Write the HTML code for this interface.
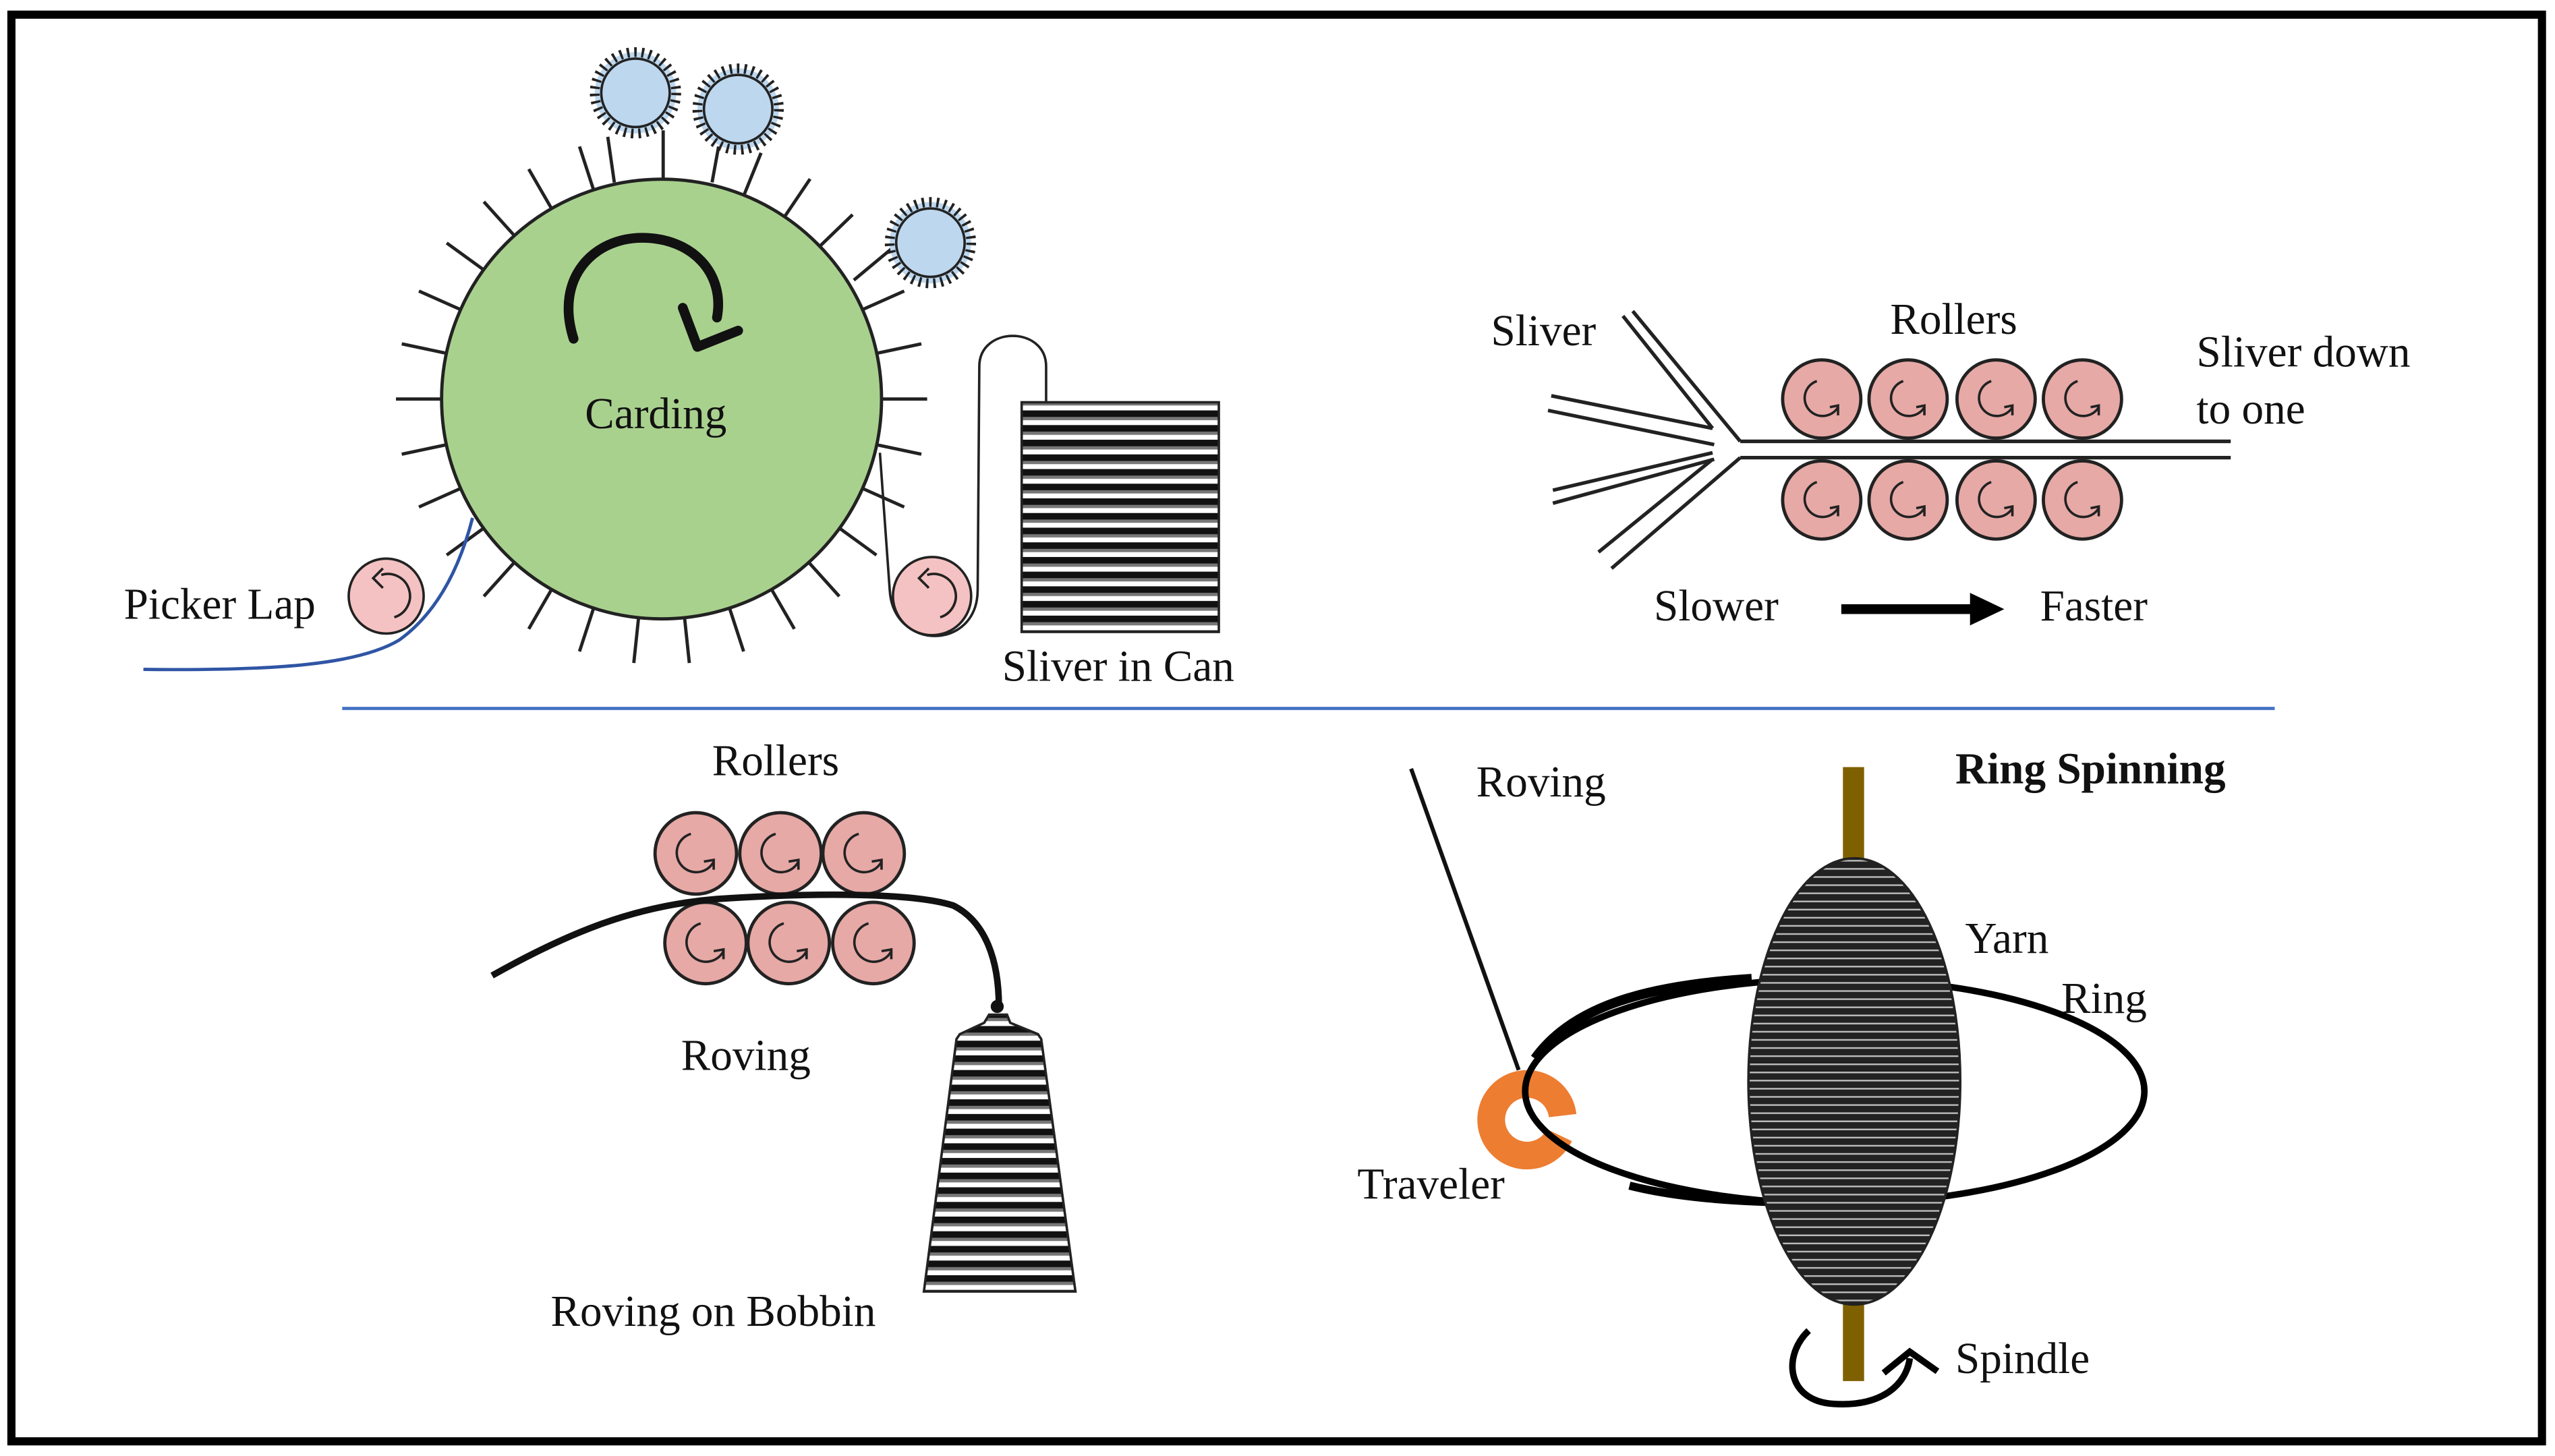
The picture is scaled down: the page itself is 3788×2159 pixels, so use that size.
<!DOCTYPE html>
<html><head><meta charset="utf-8"><style>
html,body{margin:0;padding:0;background:#fff}
svg{display:block}
text{font-family:"Liberation Serif",serif;font-size:27px;fill:#111}
</style></head><body>
<svg width="3788" height="2159" viewBox="0 0 1568 894" preserveAspectRatio="none" xmlns="http://www.w3.org/2000/svg">
<defs>
<pattern id="st" width="10" height="9" patternUnits="userSpaceOnUse">
<rect width="10" height="9" fill="#fff"/>
<rect y="0" width="10" height="5" fill="#111"/>
<rect y="4" width="10" height="2" fill="#777"/>
</pattern>
<pattern id="st2" width="10" height="5" patternUnits="userSpaceOnUse">
<rect width="10" height="5" fill="#222"/>
<rect y="3" width="10" height="1" fill="#bbb"/>
</pattern>
<g id="rr"><circle r="24" fill="#e6a9a6" stroke="#222" stroke-width="2"/><path d="M-3,-11 A11,11 0 1 0 10,5" fill="none" stroke="#222" stroke-width="1.5"/><path d="M5,5 L10,4 L10,10" fill="none" stroke="#222" stroke-width="1.5"/></g>
<g id="rb"><circle r="25" fill="#e6a9a6" stroke="#222" stroke-width="2"/><path d="M-3,-12 A12,12 0 1 0 11,5" fill="none" stroke="#222" stroke-width="1.5"/><path d="M5,5 L11,4 L11,10" fill="none" stroke="#222" stroke-width="1.5"/></g>
</defs>
<rect x="7" y="9" width="1553" height="876" fill="none" stroke="#000" stroke-width="5"/>

<!-- carding spikes -->
<g stroke="#222" stroke-width="2">
<g id="sp"><line x1="540" y1="245" x2="569" y2="245"/></g>
<use href="#sp" transform="rotate(12 406 245)"/><use href="#sp" transform="rotate(24 406 245)"/><use href="#sp" transform="rotate(36 406 245)"/>
<use href="#sp" transform="rotate(48 406 245)"/><use href="#sp" transform="rotate(60 406 245)"/><use href="#sp" transform="rotate(72 406 245)"/>
<use href="#sp" transform="rotate(84 406 245)"/><use href="#sp" transform="rotate(96 406 245)"/><use href="#sp" transform="rotate(108 406 245)"/>
<use href="#sp" transform="rotate(120 406 245)"/><use href="#sp" transform="rotate(132 406 245)"/><use href="#sp" transform="rotate(144 406 245)"/>
<use href="#sp" transform="rotate(156 406 245)"/><use href="#sp" transform="rotate(168 406 245)"/><use href="#sp" transform="rotate(180 406 245)"/>
<use href="#sp" transform="rotate(192 406 245)"/><use href="#sp" transform="rotate(204 406 245)"/><use href="#sp" transform="rotate(216 406 245)"/>
<use href="#sp" transform="rotate(228 406 245)"/><use href="#sp" transform="rotate(240 406 245)"/><use href="#sp" transform="rotate(252 406 245)"/>
<use href="#sp" transform="rotate(292 406 245)"/><use href="#sp" transform="rotate(304 406 245)"/>
<use href="#sp" transform="rotate(316 406 245)"/><use href="#sp" transform="rotate(336 406 245)"/><use href="#sp" transform="rotate(348 406 245)"/>
<line x1="373" y1="84" x2="377" y2="112"/>
<line x1="407" y1="80" x2="407" y2="110"/>
<line x1="441" y1="90" x2="437" y2="112"/>
<line x1="524" y1="172" x2="548" y2="152"/>
</g>
<circle cx="406" cy="245" r="135" fill="#a9d18e" stroke="#222" stroke-width="2"/>
<!-- blue rollers -->
<g fill="#bdd7ee" stroke="#222" stroke-width="6" stroke-dasharray="1.5 3">
<circle cx="390" cy="57" r="25"/><circle cx="453" cy="67" r="25"/><circle cx="571" cy="149" r="25"/>
</g>
<g fill="#bdd7ee" stroke="#222" stroke-width="1.5">
<circle cx="390" cy="57" r="21"/><circle cx="453" cy="67" r="21"/><circle cx="571" cy="149" r="21"/>
</g>
<!-- rotation arrow -->
<path d="M352,208 C340,170 365,146 394,146 C425,146 445,168 440,195" fill="none" stroke="#111" stroke-width="6" stroke-linecap="round"/>
<path d="M419,189 L428,213 L453,203" fill="none" stroke="#111" stroke-width="6" stroke-linecap="round" stroke-linejoin="round"/>
<text x="359" y="263">Carding</text>
<!-- picker lap -->
<path d="M88,411 C170,412 220,408 245,393 C270,375 283,345 290,318" fill="none" stroke="#2f55a4" stroke-width="2"/>
<circle cx="237" cy="366" r="23" fill="#f4c2c2" stroke="#222" stroke-width="1.5"/>
<path d="M234,353 A12,12 0 1 1 242,379" fill="none" stroke="#222" stroke-width="1.5"/><path d="M235,349 L229,355 L235,361" fill="none" stroke="#222" stroke-width="1.5"/>
<text x="76" y="380">Picker Lap</text>
<!-- sliver into can -->
<path d="M540,278 L546,362 C548,400 600,400 600,362 L601,225 C601,200 642,200 642,225 L642,247" fill="none" stroke="#222" stroke-width="1.5"/>
<circle cx="572" cy="366" r="24" fill="#f4c2c2" stroke="#222" stroke-width="1.5"/>
<path d="M569,353 A12,12 0 1 1 577,379" fill="none" stroke="#222" stroke-width="1.5"/><path d="M570,349 L564,355 L570,361" fill="none" stroke="#222" stroke-width="1.5"/>
<rect x="627" y="247" width="121" height="141" fill="url(#st)" stroke="#222" stroke-width="1.5"/>
<text x="615" y="418">Sliver in Can</text>

<!-- drawing frame -->
<g stroke="#222" stroke-width="2.2" fill="none">
<line x1="1068" y1="271" x2="1369" y2="271"/>
<line x1="1068" y1="281" x2="1369" y2="281"/>
<line x1="996" y1="194" x2="1051" y2="263"/><line x1="1002" y1="191" x2="1068" y2="271"/>
<line x1="952" y1="243" x2="1051" y2="263"/><line x1="950" y1="252" x2="1052" y2="273"/>
<line x1="953" y1="301" x2="1051" y2="278"/><line x1="953" y1="309" x2="1052" y2="282"/>
<line x1="981" y1="339" x2="1051" y2="282"/><line x1="989" y1="349" x2="1068" y2="281"/>
</g>
<use href="#rr" x="1118" y="245"/><use href="#rr" x="1171" y="245"/><use href="#rr" x="1225" y="245"/><use href="#rr" x="1278" y="245"/>
<use href="#rr" x="1118" y="307"/><use href="#rr" x="1171" y="307"/><use href="#rr" x="1225" y="307"/><use href="#rr" x="1278" y="307"/>
<text x="915" y="212">Sliver</text>
<text x="1160" y="205">Rollers</text>
<text x="1348" y="225">Sliver down</text>
<text x="1348" y="260">to one</text>
<text x="1015" y="381">Slower</text>
<text x="1252" y="381">Faster</text>
<line x1="1130" y1="374" x2="1212" y2="374" stroke="#000" stroke-width="6"/>
<path d="M1209,364 L1230,374 L1209,384 Z" fill="#000"/>

<line x1="210" y1="435" x2="1396" y2="435" stroke="#4472c4" stroke-width="2"/>

<!-- roving frame -->
<use href="#rb" x="427" y="524"/><use href="#rb" x="479" y="524"/><use href="#rb" x="530" y="524"/>
<use href="#rb" x="433" y="579"/><use href="#rb" x="484" y="579"/><use href="#rb" x="536" y="579"/>
<path d="M302,599 C350,572 390,556 440,552 C500,548 560,548 585,556 C605,566 613,590 613,618" fill="none" stroke="#111" stroke-width="4"/>
<circle cx="612" cy="618" r="4" fill="#111"/>
<path d="M607,623 L618,623 L620,628 L637,635 L639,638 L660,793 L567,793 L587,638 L589,635 L604,628 Z" fill="url(#st)" stroke="#222" stroke-width="1.5"/>
<text x="437" y="476">Rollers</text>
<text x="418" y="657">Roving</text>
<text x="338" y="814">Roving on Bobbin</text>

<!-- ring spinning -->
<rect x="1131" y="471" width="13" height="377" fill="#7f6000"/>
<path d="M957,697 A22,22 0 1 1 959,685" fill="none" stroke="#ed7d31" stroke-width="17"/>
<ellipse cx="1126" cy="670" rx="190" ry="69" fill="none" stroke="#000" stroke-width="4"/>
<path d="M942,650 C965,618 1010,605 1075,601" fill="none" stroke="#000" stroke-width="6"/>
<path d="M1000,728 C1040,738 1090,739 1130,738" fill="none" stroke="#000" stroke-width="5"/>
<ellipse cx="1138" cy="664" rx="65" ry="137" fill="url(#st2)" stroke="#222" stroke-width="1.5"/>
<line x1="866" y1="472" x2="932" y2="657" stroke="#111" stroke-width="2.5"/>
<path d="M1110,817 C1094,832 1096,860 1125,862 C1155,864 1170,850 1172,834" fill="none" stroke="#000" stroke-width="4"/>
<path d="M1156,843 L1172,830 L1189,842" fill="none" stroke="#000" stroke-width="4"/>
<text x="906" y="489">Roving</text>
<text x="1200" y="481" style="font-weight:bold">Ring Spinning</text>
<text x="1206" y="585">Yarn</text>
<text x="1265" y="622">Ring</text>
<text x="833" y="736">Traveler</text>
<text x="1200" y="843">Spindle</text>
</svg>
</body></html>
